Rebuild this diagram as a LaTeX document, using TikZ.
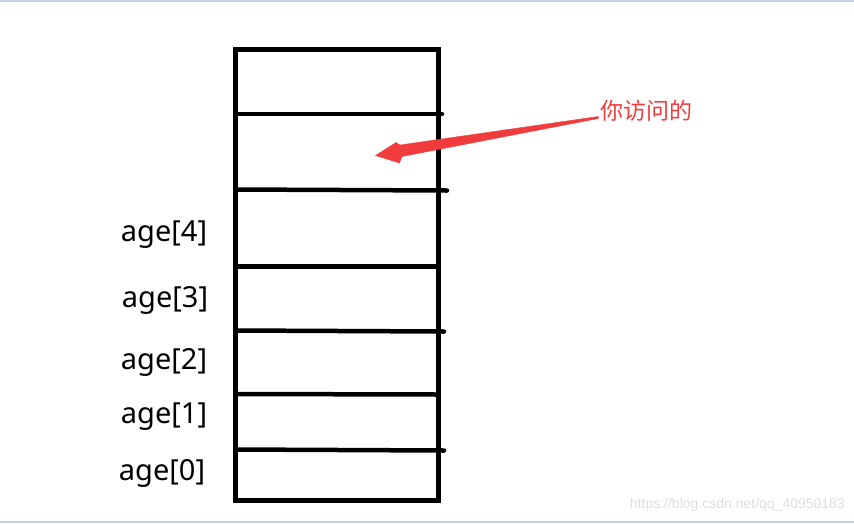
\documentclass[tikz,border=0pt]{standalone}
\usepackage{fontspec}
\setmainfont{Noto Sans}
\newfontfamily\cjkfont{Noto Sans CJK SC}
\newfontfamily\wmfont{Liberation Sans}
\usetikzlibrary{positioning}
\usetikzlibrary{calc}
\definecolor{arrowred}{RGB}{240,60,60}
\definecolor{framegray}{RGB}{196,207,224}
\definecolor{markgray}{RGB}{222,222,222}

\begin{document}
\begin{tikzpicture}[x=1pt, y=-1pt,
    cellline/.style={line width=4.5pt, line cap=round},
    idxlabel/.style={font=\fontsize{29}{29}\selectfont, inner sep=0pt}]
          \useasboundingbox (0,0) rectangle (854,523);
          \draw [framegray, line width=1.5pt] (0,0.75) -- (854,0.75);
          \draw [framegray, line width=1.5pt] (0,522) -- (854,522);

          % the array
          \draw [line width=4.5pt] (235.3,49.3) rectangle (438.7,500.5);
          \coordinate (r1) at (235.3,114);   \coordinate (e1) at (442,114);
          \coordinate (r2) at (235.3,189.5); \coordinate (e2) at (447,190.5);
          \coordinate (r3) at (235.3,266.5); \coordinate (e3) at (438,266.5);
          \coordinate (r4) at (235.3,330.5); \coordinate (e4) at (444,331.5);
          \coordinate (r5) at (235.3,394);   \coordinate (e5) at (438,394.5);
          \coordinate (r6) at (235.3,449.5); \coordinate (e6) at (444,450.5);
          \foreach \i in {1,...,6}
            \draw [cellline] (r\i) -- (e\i);

          \node[idxlabel] (a4) at (164,235) {age[4]};
          \node[idxlabel] (a3) at (165,300) {age[3]};
          \node[idxlabel] (a2) at (164,362) {age[2]};
          \node[idxlabel] (a1) at (164,417) {age[1]};
          \node[idxlabel] (a0) at (162,473) {age[0]};

          % pointer
          \node[font=\cjkfont\fontsize{23}{23}\selectfont, text=arrowred, inner sep=0pt]
            (visit) at (646.5,111) {你访问的};
          \coordinate (tip) at (375.5,155.5);
          \filldraw [arrowred] (visit.west) ++(-2,5.5) coordinate (tail)
            -- (400,145) -- (396,142.5) -- (tip) -- (399.5,163) -- (402,156.5)
            -- ($(tail)+(0,2)$) -- cycle;

          \node[font=\wmfont\fontsize{14}{14}\selectfont, text=markgray, anchor=east, inner sep=0pt]
            (mark) at (845,505) {https://blog.csdn.net/qq\_40950183};

        \end{tikzpicture}
\end{document}
